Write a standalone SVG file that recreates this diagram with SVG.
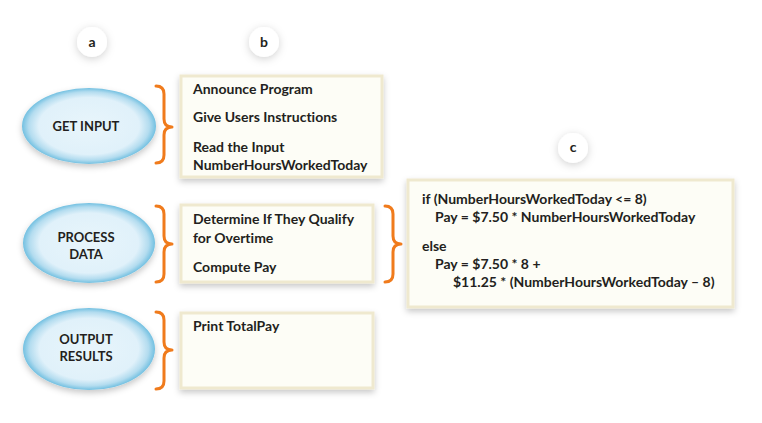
<svg xmlns="http://www.w3.org/2000/svg" width="762" height="423" viewBox="0 0 762 423">
<defs>
<radialGradient id="eg" cx="0.5" cy="0.5" r="0.5">
<stop offset="0" stop-color="#e8f5fb"/>
<stop offset="0.75" stop-color="#e0f1fa"/>
<stop offset="0.9" stop-color="#b3dcef"/>
<stop offset="1" stop-color="#72c0e1"/>
</radialGradient>
<filter id="sh" x="-20%" y="-20%" width="140%" height="150%">
<feDropShadow dx="0" dy="3" stdDeviation="3" flood-color="#000" flood-opacity="0.22"/>
</filter>
<filter id="csh" x="-80%" y="-80%" width="260%" height="260%">
<feDropShadow dx="0" dy="2" stdDeviation="4" flood-color="#000" flood-opacity="0.18"/>
</filter>
</defs>
<style>
text{font-variant-ligatures:none}
.lbl{fill:#fff;filter:url(#csh)}
.lt{font-family:Lato,"Liberation Sans",sans-serif;font-weight:700;font-size:14px;fill:#231f20;text-anchor:middle}
.ell{fill:url(#eg);filter:url(#sh)}
.et{font-family:Lato,"Liberation Sans",sans-serif;font-weight:700;font-size:13px;fill:#231f20;text-anchor:middle}
.box{fill:#fdfdf6;stroke:#efe9cf;stroke-width:3;filter:url(#sh)}
.bt{font-family:Lato,"Liberation Sans",sans-serif;font-weight:700;font-size:14px;fill:#231f20}
.br{fill:none;stroke:#f07b1c;stroke-width:3;stroke-linecap:round;stroke-linejoin:round}
</style>
<rect width="762" height="423" fill="#fff"/>

<g id="label-a"><circle class="lbl" cx="92" cy="42" r="15"/><text class="lt" x="92" y="47">a</text></g>
<g id="label-b"><circle class="lbl" cx="264" cy="42" r="15"/><text class="lt" x="264" y="47">b</text></g>
<g id="label-c"><circle class="lbl" cx="573" cy="148" r="15"/><text class="lt" x="573" y="152">c</text></g>

<g id="get-input"><ellipse class="ell" cx="89" cy="126" rx="67" ry="38"/><text class="et" x="86" y="131">GET INPUT</text></g>
<g id="process-data"><ellipse class="ell" cx="89" cy="243" rx="66" ry="40"/><text class="et" x="86" y="242">PROCESS</text><text class="et" x="86" y="259">DATA</text></g>
<g id="output-results"><ellipse class="ell" cx="89" cy="349" rx="66" ry="41"/><text class="et" x="86" y="344">OUTPUT</text><text class="et" x="86" y="361">RESULTS</text></g>

<g id="box-input"><rect class="box" x="181" y="76" width="201" height="101"/>
<text class="bt" x="193" y="94">Announce Program</text>
<text class="bt" x="193" y="122">Give Users Instructions</text>
<text class="bt" x="193" y="152">Read the Input</text>
<text class="bt" x="193" y="170">NumberHoursWorkedToday</text></g>

<g id="box-process"><rect class="box" x="181" y="205" width="192" height="77"/>
<text class="bt" x="193" y="224">Determine If They Qualify</text>
<text class="bt" x="193" y="243">for Overtime</text>
<text class="bt" x="193" y="272">Compute Pay</text></g>

<g id="box-output"><rect class="box" x="181" y="313" width="192" height="75"/>
<text class="bt" x="193" y="331">Print TotalPay</text></g>

<g id="box-code"><rect class="box" x="408" y="180" width="325" height="127"/>
<text class="bt" x="422" y="204">if (NumberHoursWorkedToday &lt;= 8)</text>
<text class="bt" x="435" y="222">Pay = $7.50 * NumberHoursWorkedToday</text>
<text class="bt" x="422" y="251">else</text>
<text class="bt" x="435" y="269">Pay = $7.50 * 8 +</text>
<text class="bt" x="453" y="287">$11.25 * (NumberHoursWorkedToday – 8)</text></g>

<g id="connectors">
<path class="br" d="M156 86 Q164 86 164 94 L164 119 Q164 127 172 127 Q164 127 164 135 L164 155 Q164 163 156 163"/>
<path class="br" d="M156 206 Q164 206 164 214 L164 236 Q164 244 172 244 Q164 244 164 252 L164 274 Q164 282 156 282"/>
<path class="br" d="M156 312 Q164 312 164 320 L164 342 Q164 350 172 350 Q164 350 164 358 L164 381 Q164 389 156 389"/>
<path class="br" d="M385 206 Q393 206 393 214 L393 236 Q393 244 401 244 Q393 244 393 252 L393 274 Q393 282 385 282"/>
</g>
</svg>
